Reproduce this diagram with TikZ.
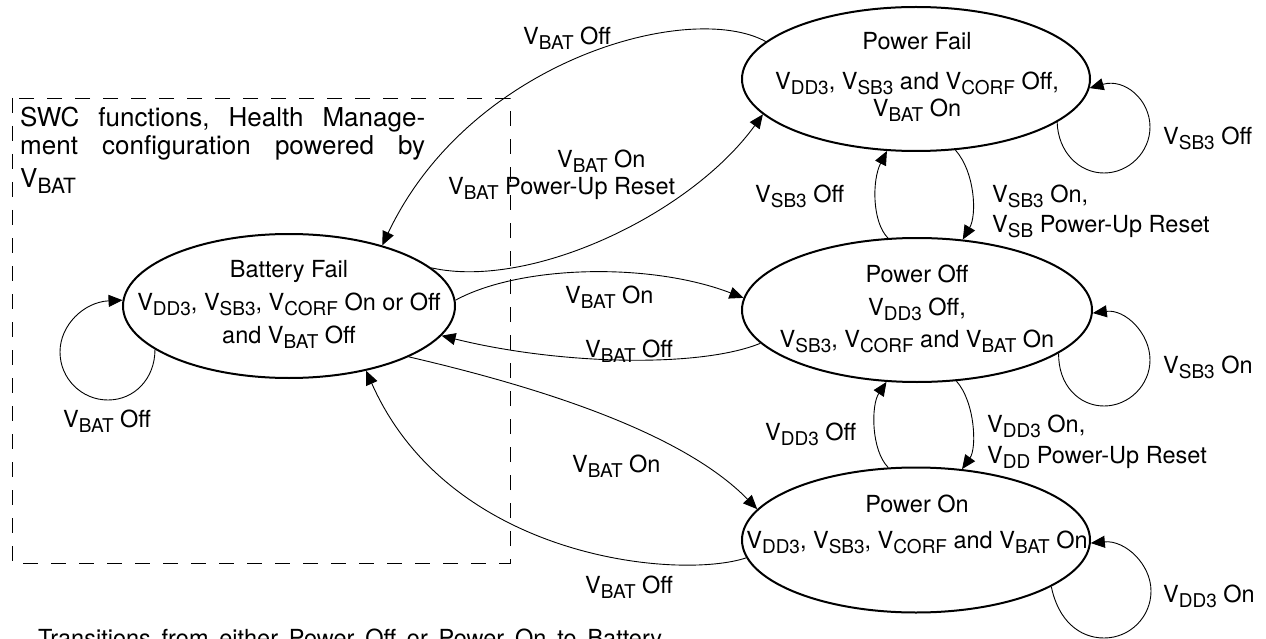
\documentclass[tikz,border=0pt]{standalone}
\usepackage{fontspec}
\setmainfont{TeX Gyre Heros}
\usetikzlibrary{arrows.meta,shapes.geometric}
\newcommand\subfont{\fontsize{19}{19}\selectfont}
\newcommand\vsb[1]{V\raisebox{-5pt}{\subfont #1}}
\newcommand\vsbbig[1]{V\raisebox{-5.5pt}{\fontsize{21}{21}\selectfont #1}}
\begin{document}
\begin{tikzpicture}[x=1pt,y=-1pt,
  state/.style={draw, ellipse, line width=2pt, inner sep=0pt},
  txt/.style={inner sep=0pt, anchor=base, font=\fontsize{23.5}{28}\selectfont},
  lbl/.style={inner sep=0pt, anchor=base west, font=\fontsize{23.5}{28}\selectfont},
  link/.style={line width=0.9pt, -{Triangle[length=14pt,width=12pt]}},
  region/.style={line width=0.9pt, dash pattern=on 15pt off 13pt},
]
\useasboundingbox (0,0) rectangle (1266,639);

% region powered by V_BAT
\draw[region] (12,98) rectangle (510,563);
\node[lbl, text width=405pt, align=justify, font=\fontsize{26}{28}\selectfont] (swc) at (20,127)
  {SWC\hfill functions,\hfill Health\hfill Manage-\\
   ment\hfill configuration\hfill powered\hfill by\\[5pt]
   \vsbbig{BAT}};

% states
\node[state, minimum width=332pt, minimum height=144pt] (bf) at (289,306) {};
\node[state, minimum width=348pt, minimum height=144pt] (pf) at (916,79) {};
\node[state, minimum width=350pt, minimum height=144pt] (poff) at (917,310) {};
\node[state, minimum width=348pt, minimum height=145pt] (pon) at (916,540) {};

% state texts
\node[txt] (bf1) at (289,277) {Battery Fail};
\node[txt] (bf2) at (289,310) {\vsb{DD3}, \vsb{SB3}, \vsb{CORF} On or Off};
\node[txt] (bf3) at (289,343) {and \vsb{BAT} Off};

\node[txt] (pf1) at (917,50) {Power Fail};
\node[txt] (pf2) at (917,90) {\vsb{DD3}, \vsb{SB3} and \vsb{CORF} Off,};
\node[txt] (pf3) at (917,117) {\vsb{BAT} On};

\node[txt] (poff1) at (917,282) {Power Off};
\node[txt] (poff2) at (917,315) {\vsb{DD3} Off,};
\node[txt] (poff3) at (917,347) {\vsb{SB3}, \vsb{CORF} and \vsb{BAT} On};

\node[txt] (pon1) at (917,512) {Power On};
\node[txt] (pon2) at (917,548) {\vsb{DD3}, \vsb{SB3}, \vsb{CORF} and \vsb{BAT} On};

% transitions between Battery Fail and the other states
\draw[link] (pf.166) .. controls (690,0) and (470,60) .. (bf.33.5);
\draw[link] (bf.15) .. controls (530,290) and (690,215) .. (pf.193);
\draw[link] (bf.2.8) .. controls (520,265) and (650,262) .. (poff.176.7);
\draw[link] (poff.192) .. controls (700,368) and (560,365) .. (bf.349.3);
\draw[link] (bf.337.6) .. controls (530,385) and (680,430) .. (pon.169);
\draw[link] (pon.186.7) .. controls (680,580) and (450,560) .. (bf.320);

\node[lbl] (l1) at (523,45) {\vsb{BAT} Off};
\node[lbl] (l2a) at (557,168) {\vsb{BAT} On};
\node[lbl] (l2b) at (448,195) {\vsb{BAT} Power-Up Reset};
\node[lbl] (l3) at (565,303) {\vsb{BAT} On};
\node[lbl] (l4) at (585,357) {\vsb{BAT} Off};
\node[lbl] (l5) at (572,472) {\vsb{BAT} On};
\node[lbl] (l6) at (585,593) {\vsb{BAT} Off};

% transitions among the powered states
\draw[link] (poff.112.6) .. controls (872,222) and (872,180) .. (pf.248.6);
\draw[link] (pf.299.9) .. controls (975,172) and (977,215) .. (poff.57.8);
\draw[link] (pon.111.7) .. controls (871,450) and (871,405) .. (poff.247.7);
\draw[link] (poff.299.7) .. controls (975,402) and (977,448) .. (pon.57);

\node[lbl] (l7) at (755,203) {\vsb{SB3} Off};
\node[lbl] (l8a) at (992,203) {\vsb{SB3} On,};
\node[lbl] (l8b) at (992,233) {\vsb{SB} Power-Up Reset};
\node[lbl] (l9) at (765,440) {\vsb{DD3} Off};
\node[lbl] (l10a) at (987,432) {\vsb{DD3} On,};
\node[lbl] (l10b) at (987,463) {\vsb{DD} Power-Up Reset};

% self loops
\draw[link] (bf.198.9) .. controls (155,378.5) and (134.5,400) .. (108,400)
  .. controls (81.5,400) and (60,378.5) .. (60,352)
  .. controls (60,325) and (84,302) .. (bf.178);
\draw[link] (pf.343.8) .. controls (1058,152) and (1079,173) .. (1104,173)
  .. controls (1129,173) and (1150,152) .. (1150,127)
  .. controls (1150,100) and (1125,78) .. (pf.357.1);
\draw[link] (poff.343.3) .. controls (1058,385) and (1079,406) .. (1104,406)
  .. controls (1129,406) and (1150,385) .. (1150,360)
  .. controls (1150,333) and (1125,309) .. (poff.359.3);
\draw[link] (pon.341.7) .. controls (1058,620) and (1079,638) .. (1104,638)
  .. controls (1130,638) and (1151,617) .. (1151,591)
  .. controls (1151,564) and (1125,540) .. (pon.359.2);

\node[lbl] (l11) at (63,427) {\vsb{BAT} Off};
\node[lbl] (l12) at (1163,145) {\vsb{SB3} Off};
\node[lbl] (l13) at (1163,373) {\vsb{SB3} On};
\node[lbl] (l14) at (1163,602) {\vsb{DD3} On};

% footnote, first line of a justified paragraph
\node[anchor=base west, inner sep=0pt, font=\fontsize{23.5}{28}\selectfont] (note)
  at (38,646) {\makebox[624pt][s]{Transitions from either Power Off or Power On to Battery}};
\end{tikzpicture}
\end{document}
